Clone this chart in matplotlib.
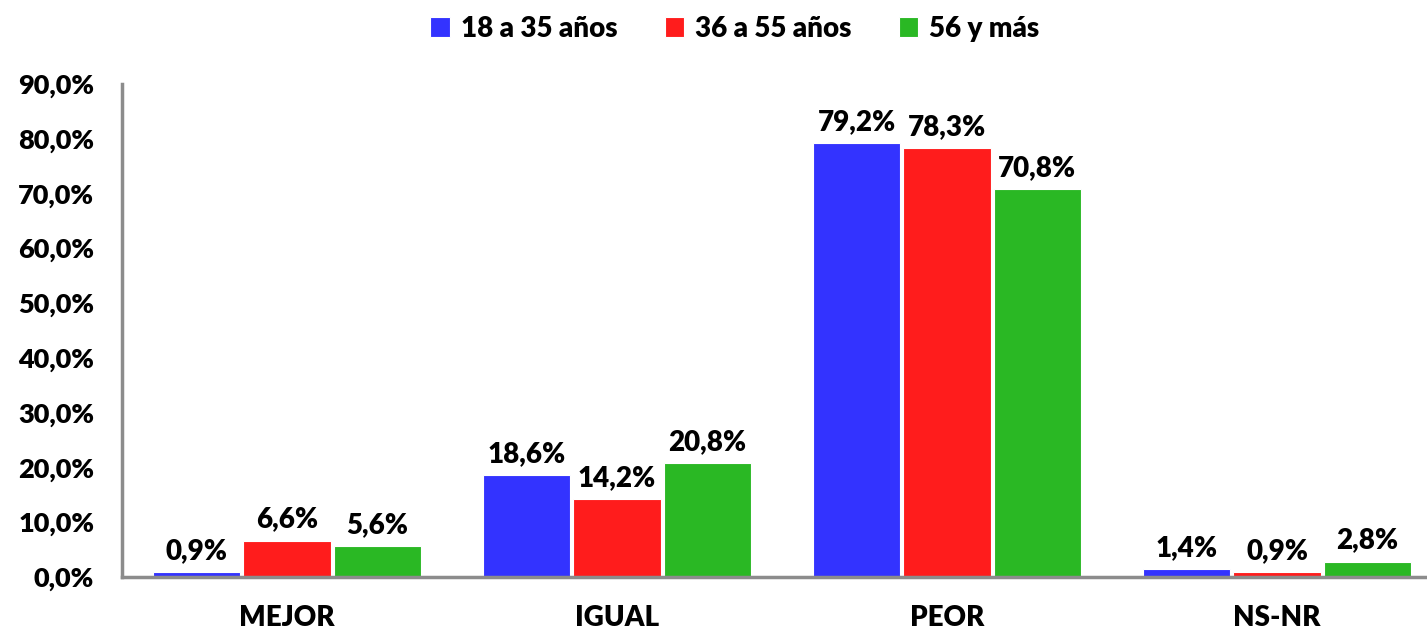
import matplotlib.pyplot as plt
import numpy as np

categories = ["MEJOR", "IGUAL", "PEOR", "NS-NR"]
series_names = ["18 a 35 años", "36 a 55 años", "56 y más"]
jovenes = [0.9, 18.6, 79.2, 1.4]
adultos = [6.6, 14.2, 78.3, 0.9]
mayores = [5.6, 20.8, 70.8, 2.8]
yticks = np.arange(0, 91, 10)

colors = ["#3333ff", "#ff1c1c", "#2ab824"]

plt.rcParams["font.family"] = ["Lato", "DejaVu Sans"]
W = "heavy"

fig = plt.figure(figsize=(14.27, 6.31), dpi=100)
ax = fig.add_axes((122 / 1427, 54 / 631, 1305 / 1427, 493 / 631))

x = np.arange(len(categories))
width = 0.264
step = 0.273
for i, (vals, name) in enumerate(zip([jovenes, adultos, mayores], series_names)):
    bars = ax.bar(x + (i - 1) * step, vals, width, color=colors[i], label=name,
                  edgecolor="white", linewidth=0.8)
    for b, v in zip(bars, vals):
        ax.annotate(f"{v:.1f}%".replace(".", ","),
                    (b.get_x() + b.get_width() / 2, v),
                    xytext=(0, 6), textcoords="offset points",
                    ha="center", va="bottom", fontsize=20, fontweight=W)

ax.set_xlim(-0.5, -0.5 + 1305 / 330)
ax.set_ylim(0, 90)
ax.set_yticks(yticks)
ax.set_yticklabels([f"{t:.1f}%".replace(".", ",") for t in yticks], fontsize=19.5, fontweight=W)
ax.set_xticks(x)
ax.set_xticklabels(categories, fontsize=20, fontweight=W)
ax.tick_params(axis="y", length=0, pad=20)
ax.tick_params(axis="x", length=0, pad=20)

for s in ["top", "right"]:
    ax.spines[s].set_visible(False)
for s in ["left", "bottom"]:
    ax.spines[s].set_color("#8c8c8c")
    ax.spines[s].set_linewidth(2.5)

fig.legend(loc="upper center", bbox_to_anchor=(0.515, 1.015), ncol=3, frameon=False,
           handlelength=0.7, handleheight=0.7, handletextpad=0.4,
           columnspacing=1.7, prop={"weight": W, "size": 20})

fig.savefig("out.png", dpi=100)
